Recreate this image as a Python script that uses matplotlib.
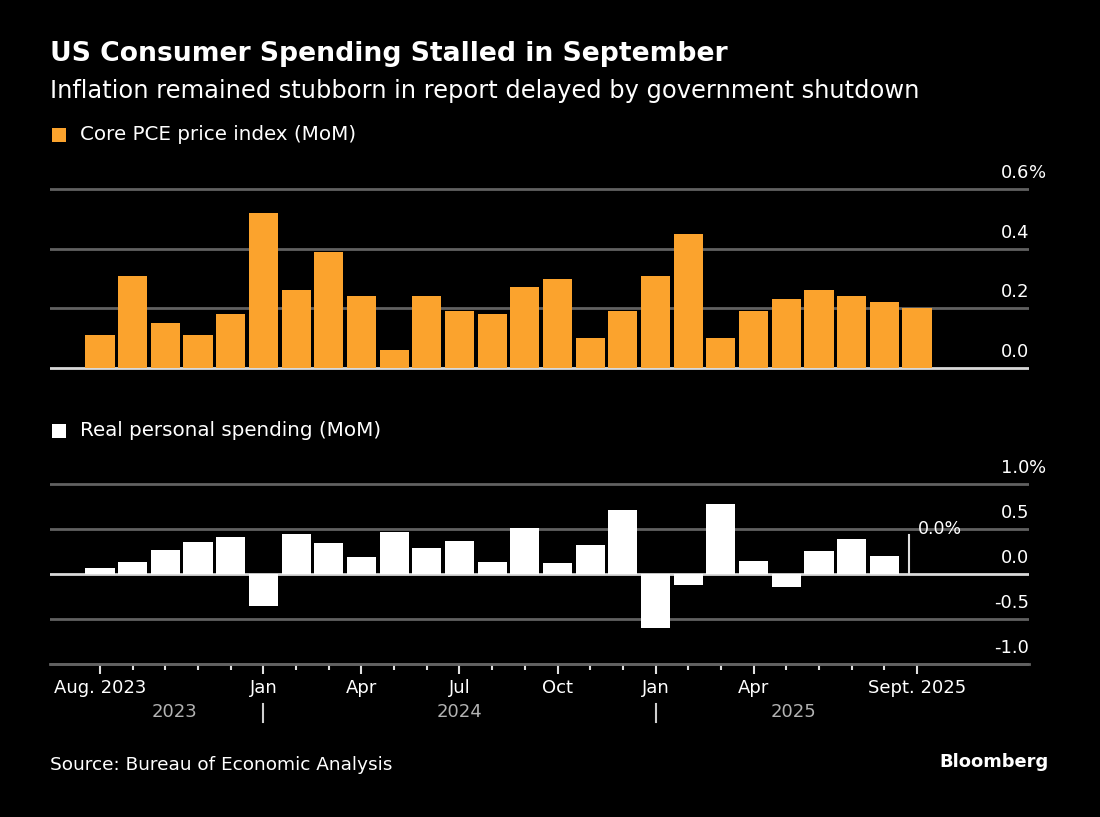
import matplotlib
matplotlib.use("Agg")
import matplotlib.pyplot as plt
from matplotlib.patches import Rectangle
from matplotlib.lines import Line2D
from matplotlib.transforms import blended_transform_factory
import numpy as np

# ---------------- data ----------------
months = ["Aug 2023", "Sep 2023", "Oct 2023", "Nov 2023", "Dec 2023",
          "Jan 2024", "Feb 2024", "Mar 2024", "Apr 2024", "May 2024", "Jun 2024",
          "Jul 2024", "Aug 2024", "Sep 2024", "Oct 2024", "Nov 2024", "Dec 2024",
          "Jan 2025", "Feb 2025", "Mar 2025", "Apr 2025", "May 2025", "Jun 2025",
          "Jul 2025", "Aug 2025", "Sep 2025"]
core_pce = [0.11, 0.31, 0.15, 0.11, 0.18, 0.52, 0.26, 0.39, 0.24, 0.06, 0.24,
            0.19, 0.18, 0.27, 0.30, 0.10, 0.19, 0.31, 0.45, 0.10, 0.19, 0.23,
            0.26, 0.24, 0.22, 0.20]
real_spending = [0.07, 0.13, 0.27, 0.36, 0.41, -0.36, 0.44, 0.34, 0.19, 0.47,
                 0.29, 0.37, 0.13, 0.51, 0.12, 0.32, 0.71, -0.60, -0.12, 0.78,
                 0.14, -0.14, 0.26, 0.39, 0.20, 0.0]
major_tick_idx = [0, 5, 8, 11, 14, 17, 20, 25]
major_tick_labels = ["Aug. 2023", "Jan", "Apr", "Jul", "Oct", "Jan", "Apr", "Sept. 2025"]
year_labels = ["2023", "2024", "2025"]
top_yticks = [0.0, 0.2, 0.4, 0.6]
top_ylabels = ["0.0", "0.2", "0.4", "0.6"]
bot_yticks = [-1.0, -0.5, 0.0, 0.5, 1.0]
bot_ylabels = ["-1.0", "-0.5", "0.0", "0.5", "1.0"]

# ---------------- style ----------------
W, H = 1100, 817
BG = "#000000"
ORANGE = "#FBA32D"
GRID = "#616161"
ZERO = "#d9d9d9"
TXT = "#ffffff"
YEARC = "#b3b3b3"
FONT = "DejaVu Sans"
plt.rcParams["font.family"] = [FONT]

fig = plt.figure(figsize=(W / 100, H / 100), dpi=100, facecolor=BG)


def fx(px):
    return px / W


def fy(py):
    return 1 - py / H


def add_axes_px(x0, x1, ytop, ybot):
    return fig.add_axes([fx(x0), fy(ybot), fx(x1) - fx(x0), (ybot - ytop) / H])


x = np.arange(len(months))
XL, XR = 50, 1029
x_c0, x_step = 100, 32.68
xlim = ((XL - x_c0) / x_step, (XR - x_c0) / x_step)
bw = 0.89

# ---------------- titles ----------------
fig.text(fx(50), fy(54), "US Consumer Spending Stalled in September", color=TXT,
         fontsize=19.2, fontweight="bold", va="center", ha="left")
fig.text(fx(50), fy(91), "Inflation remained stubborn in report delayed by government shutdown",
         color=TXT, fontsize=17.4, va="center", ha="left")


def legend_item(ytop, color, label):
    fig.add_artist(Rectangle((fx(52), fy(ytop + 14)), 14 / W, 14 / H,
                             transform=fig.transFigure, color=color, lw=0))
    fig.text(fx(80), fy(ytop + 7), label, color=TXT, fontsize=14.3, va="center", ha="left")


legend_item(128, ORANGE, "Core PCE price index (MoM)")
legend_item(424, "#ffffff", "Real personal spending (MoM)")

# ---------------- top panel ----------------
t_scale = (368 - 189) / 0.6
t_lo, t_hi = -0.012, 0.62
ax1 = add_axes_px(XL, XR, 368 - t_hi * t_scale, 368 - t_lo * t_scale)
ax1.set_facecolor(BG)
ax1.set_xlim(*xlim)
ax1.set_ylim(t_lo, t_hi)
for v in top_yticks[1:]:
    ax1.axhline(v, color=GRID, lw=2, zorder=0)
ax1.axhline(0, color=ZERO, lw=2, zorder=1)
ax1.bar(x, core_pce, width=bw, color=ORANGE, zorder=2)
ax1.axis("off")
for v, lab in zip(top_yticks, top_ylabels):
    ax1.text(xlim[1], v + 16 / t_scale, lab, color=TXT, fontsize=13,
             ha="right", va="center")
ax1.text(xlim[1], top_yticks[-1] + 16 / t_scale, "%", color=TXT, fontsize=13,
         ha="left", va="center")

# ---------------- bottom panel ----------------
b_scale = 90.0
b_lo, b_hi = -1.08, 1.08
ax2 = add_axes_px(XL, XR, 574 - b_hi * b_scale, 574 - b_lo * b_scale)
ax2.set_facecolor(BG)
ax2.set_xlim(*xlim)
ax2.set_ylim(b_lo, b_hi)
for v in bot_yticks:
    if v != 0:
        ax2.axhline(v, color=GRID, lw=2, zorder=0)
ax2.axhline(0, color=ZERO, lw=2, zorder=1)
ax2.bar(x, real_spending, width=bw, color="#ffffff", zorder=2)
for s in ["top", "right", "left"]:
    ax2.spines[s].set_visible(False)
ax2.spines["bottom"].set_position(("data", -1.0))
ax2.spines["bottom"].set_color(GRID)
ax2.spines["bottom"].set_linewidth(2)
ax2.set_yticks([])
ax2.set_xticks(major_tick_idx)
ax2.set_xticklabels([])
ax2.set_xticks([i for i in x if i not in major_tick_idx], minor=True)
ax2.tick_params(axis="x", which="major", length=7.5, width=1.5, color="#e0e0e0", direction="out")
ax2.tick_params(axis="x", which="minor", length=4, width=1.5, color="#e0e0e0", direction="out")
for v, lab in zip(bot_yticks, bot_ylabels):
    ax2.text(xlim[1], v + 16 / b_scale, lab, color=TXT, fontsize=13,
             ha="right", va="center")
ax2.text(xlim[1], bot_yticks[-1] + 16 / b_scale, "%", color=TXT, fontsize=13,
         ha="left", va="center")

# annotation for the latest value
last = len(months) - 1
ax2.plot([last - 0.24, last - 0.24], [real_spending[last], real_spending[last] + 0.43],
         color="#e0e0e0", lw=1.5, zorder=3)
ax2.text(last + 0.02, real_spending[last] + 0.5, f"{real_spending[last]:.1f}%",
         color=TXT, fontsize=12.5, ha="left", va="center")

# x tick labels (first row) and year labels (second row)
tr = blended_transform_factory(ax2.transData, fig.transFigure)
for i, lab in zip(major_tick_idx, major_tick_labels):
    ax2.text(i, fy(688), lab, transform=tr, color=TXT, fontsize=13,
             ha="center", va="center")
jan_idx = [i for i, m in enumerate(months) if m.startswith("Jan")]
bounds = [-bw / 2] + jan_idx + [last + bw / 2]
for k, ylab in enumerate(year_labels):
    ax2.text((bounds[k] + bounds[k + 1]) / 2, fy(712), ylab, transform=tr,
             color=YEARC, fontsize=13, ha="center", va="center")
for j in jan_idx:
    ax2.add_line(Line2D([j, j], [fy(704), fy(722)], transform=tr, color="#cfcfcf",
                        lw=1.5, clip_on=False))

# ---------------- footer ----------------
fig.text(fx(50), fy(765), "Source: Bureau of Economic Analysis", color=TXT,
         fontsize=13.3, ha="left", va="center")
fig.text(fx(1049), fy(762), "Bloomberg", color=TXT, fontsize=12.9,
         fontweight="bold", ha="right", va="center")

fig.savefig("out.png", dpi=100, facecolor=BG)
